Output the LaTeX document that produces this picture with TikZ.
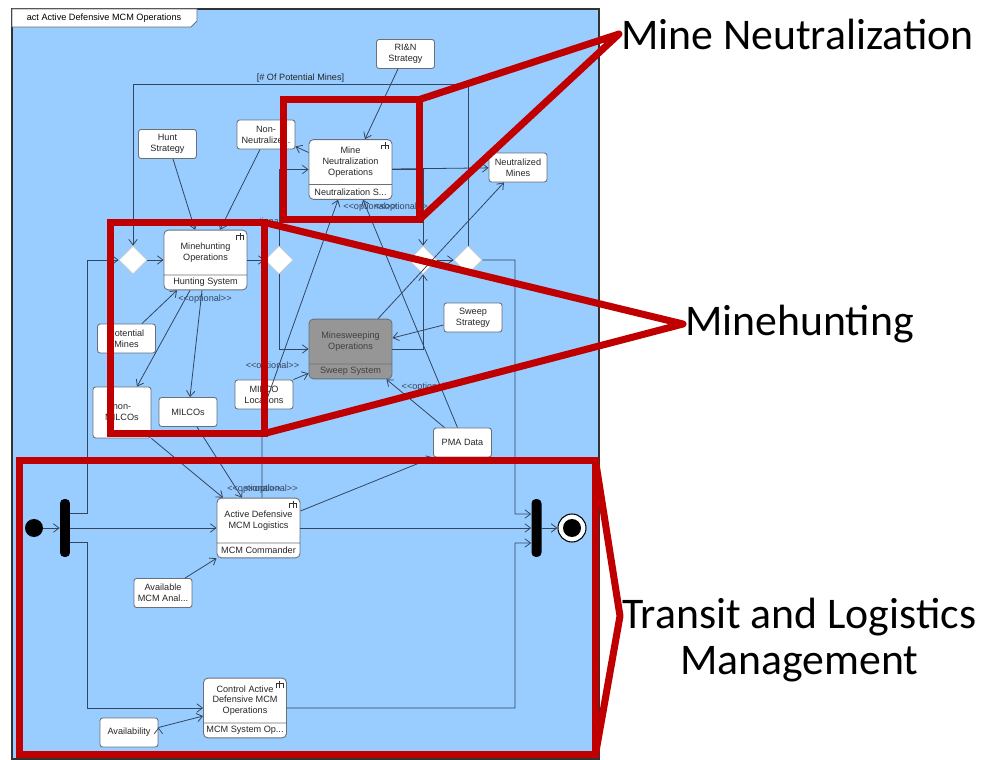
\documentclass[tikz,border=0pt]{standalone}
\usepackage{fontspec}
\setsansfont{Liberation Sans}[Ligatures=TeXOff]
\newfontfamily\calloutfont{Carlito}
\usetikzlibrary{shapes.geometric, shapes.multipart, arrows.meta, positioning}

\definecolor{frameblue}{RGB}{153,204,255}
\definecolor{edgecol}{RGB}{50,70,96}
\definecolor{boxline}{RGB}{105,112,122}
\definecolor{sweepgray}{RGB}{150,150,150}
\definecolor{callred}{RGB}{192,0,0}

% action box: name on top, partition below
\newcommand{\actparts}[2]{\parbox[c][0.88cm]{1.66cm}{\centering #1}\nodepart{two}\parbox[c][0.28cm]{1.66cm}{\centering #2}}

\begin{document}
\begin{tikzpicture}[x=0.02cm, y=-0.02cm, >={Straight Barb[length=3.2pt,width=4.8pt]},
    font=\sffamily\fontsize{5.2}{6.2}\selectfont,
    action/.style={rectangle split, rectangle split parts=2, draw=boxline, fill=white,
      rounded corners=2.5pt, inner sep=0pt, line width=0.5pt, text=black!85},
    obj/.style={draw=boxline, fill=white, rounded corners=1.5pt, line width=0.5pt,
      minimum width=1.16cm, minimum height=0.58cm, inner sep=1pt, align=center, text=black!85},
    decision/.style={diamond, draw=black!20, fill=white, minimum width=0.56cm,
      minimum height=0.56cm, inner sep=0pt},
    syncbar/.style={fill=black, rounded corners=2.5pt, minimum width=0.2cm,
      minimum height=1.16cm, inner sep=0pt},
    startdot/.style={circle, fill=black, minimum size=0.36cm, inner sep=0pt},
    enddot/.style={circle, draw=black, fill=white, line width=0.6pt, minimum size=0.56cm,
      inner sep=0pt, path picture={\fill[black] (path picture bounding box.center) circle (0.18cm);}},
    flow/.style={->, draw=edgecol, line width=0.45pt},
    optlbl/.style={text=edgecol, inner sep=0.5pt},
    rake/.style={draw=black!80, line width=0.5pt},
    callbox/.style={draw=callred, line width=4pt, inner sep=0pt, outer sep=0pt},
    callline/.style={draw=callred, line width=4pt, line join=round},
    calltext/.style={font=\calloutfont\fontsize{24.9}{26}\selectfont, inner sep=1pt}]

  \useasboundingbox (0,0) rectangle (981,760);
  \fill[frameblue] (12,9) rectangle (599,759);
  \draw[black!80, line width=0.8pt] (12,9) rectangle (599,759);
  \draw[fill=white, draw=boxline, line width=0.5pt] (12,9) -- (197,9) -- (197,21) -- (191,27) -- (12,27) -- cycle;
  \node (tab) at (104,18) {act Active Defensive MCM Operations};

  % objects, actions, control nodes
  \node[obj] (rin) at (405.5,54) {RI\&N\\Strategy};
  \node[obj] (hunt) at (167.5,144) {Hunt\\Strategy};
  \node[obj] (nn) at (266,134.5) {Non-\\Neutralize...};
  \node[action] (mno) at (350.5,169.5) {\actparts{Mine\\Neutralization\\Operations}{Neutralization S...}};
  \node[obj] (nm) at (518,167.5) {Neutralized\\Mines};
  \node[decision] (dec1) at (133,260) {};
  \node[action] (mho) at (205.5,260) {\actparts{Minehunting\\Operations}{Hunting System}};
  \node[decision] (dec2) at (279,260) {};
  \node[decision] (dec3) at (423,260) {};
  \node[decision] (dec4) at (468,260) {};
  \node[action, fill=sweepgray, text=black!75] (mso) at (350.5,349) {\actparts{Minesweeping\\Operations}{Sweep System}};
  \node[obj] (sweep) at (473,317.5) {Sweep\\Strategy};
  \node[obj] (pm) at (126.5,338.5) {Potential\\Mines};
  \node[obj, minimum height=1.02cm] (nonmilco) at (122,412.5) {non-\\MILCOs};
  \node[obj] (milco) at (188,412) {MILCOs};
  \node[obj] (milcoloc) at (264,394.5) {MILCO\\Locations};
  \node[obj] (pma) at (462.5,442.5) {PMA Data};
  \node[startdot] (ini) at (34,528) {};
  \node[syncbar] (fork) at (65,528) {};
  \node[action] (adml) at (258.5,528) {\actparts{Active Defensive\\MCM Logistics}{MCM Commander}};
  \node[syncbar] (join) at (536.5,528) {};
  \node[enddot] (fin) at (572,528) {};
  \node[obj] (ama) at (163,593) {Available\\MCM Anal...};
  \node[action] (cadmo) at (245,708) {\actparts{Control Active\\Defensive MCM\\Operations}{MCM System Op...}};
  \node[obj] (avail) at (129,732.5) {Availability};

  \foreach \a in {mho,mno,adml,cadmo}
    \draw[rake] ([shift={(-7,3)}]\a.north east) -- ++(0,7)
      ([shift={(-10.5,10)}]\a.north east) -- ++(0,-4) -- ++(7,0) -- ++(0,4);

  % control flow
  \draw[flow] ([yshift=0.29cm]fork.east) -| (87,260) -- (dec1);
  \draw[flow] ([yshift=-0.29cm]fork.east) -| (87,708) -- (cadmo);
  \draw[flow] (dec2) |- (mno);
  \draw[flow] (dec2) |- (mso);
  \draw[flow] (mno.east) -| (dec3);
  \draw[flow] (mso) -| (dec3);
  \draw[flow] (dec4) -- (dec4 |- 0,84) -| node[optlbl, pos=0.25, above, text=black!85] (guard) {[\# Of Potential Mines]} (dec1);
  \draw[flow] (dec4) -| (515,514) -- ([yshift=0.28cm]join.west);
  \draw[flow] (cadmo) -| (515,543) -- ([yshift=-0.3cm]join.west);
  \draw[flow] ([xshift=0.07cm]adml.north) -- (262,413) -- node[optlbl, at end, anchor=west, xshift=0.08cm, yshift=-0.14cm] {<<optional>>} ([xshift=-0.25cm]mno.south);

  \path[flow]
    (ini) edge (fork)
    (fork) edge (adml)
    (dec1) edge (mho)
    (mho) edge (dec2)
    (mno) edge (nm)
    (dec3) edge (dec4)
    (adml) edge (join)
    (join) edge (fin)
    ([xshift=-0.15cm]rin.south) edge ([xshift=0.29cm]mno.north)
    ([xshift=0.11cm]hunt.south) edge ([xshift=-0.21cm]mho.north)
    ([xshift=-0.12cm]nn.south) edge node[optlbl, at end, anchor=west, xshift=0.34cm, yshift=0.16cm] {<<optional>>} ([xshift=0.29cm]mho.north)
    ([yshift=0.34cm]mno.west) edge ([yshift=-0.24cm]nn.east)
    ([xshift=0.31cm]pm.north) edge ([xshift=-0.57cm]mho.south)
    ([xshift=-0.31cm]mho.south) edge ([xshift=0.3cm]nonmilco.north)
    ([xshift=-0.07cm]mho.south) edge node[optlbl, at start, anchor=north, xshift=0.06cm, yshift=-0.06cm] {<<optional>>} ([xshift=0.04cm]milco.north)
    (nonmilco.south east) edge node[optlbl, at end, anchor=south west, xshift=0.06cm, yshift=0.06cm] {<<optional>>} ([xshift=-0.71cm]adml.north)
    ([xshift=0.18cm]milco.south) edge node[optlbl, at end, anchor=south west, xshift=0.02cm, yshift=0.06cm] {<<optional>>} ([xshift=-0.33cm]adml.north)
    (milcoloc.north east) edge node[optlbl, at start, anchor=south east, xshift=0.14cm, yshift=0.16cm] {<<optional>>} ([yshift=0.12cm]mso.south west)
    ([yshift=-0.15cm]sweep.west) edge ([yshift=0.22cm]mso.east)
    ([xshift=-0.36cm]pma.north) edge node[optlbl, at end, anchor=west, xshift=0.28cm, yshift=-0.16cm] {<<optional>>} ([xshift=-0.12cm]mso.south east)
    ([xshift=-0.1cm]pma.north) edge node[optlbl, at end, anchor=west, xshift=0.2cm, yshift=-0.14cm] {<<optional>>} ([xshift=0.25cm]mno.south)
    ([xshift=0.55cm]mso.north) edge ([xshift=-0.28cm]nm.south)
    ([yshift=0.34cm]adml.east) edge (pma.south west)
    ([xshift=0.44cm]ama.north) edge (adml.south west)
    ([yshift=0.1cm]avail.east) edge ([yshift=-0.16cm]cadmo.west);

  % red call-outs
  \node[callbox, minimum width=2.72cm, minimum height=2.4cm] (boxneut) at (351.5,159.5) {};
  \node[callbox, minimum width=3.08cm, minimum height=4.22cm] (boxhunt) at (187.5,328) {};
  \node[callbox, minimum width=11.52cm, minimum height=5.88cm] (boxtrans) at (307.5,607.5) {};
  \node[calltext, anchor=west] (lblneut) at (619,34) {Mine Neutralization};
  \node[calltext, anchor=west] (lblhunt) at (683,324) {Minehunting};
  \node[calltext, anchor=north west, align=center] (lbltrans) at (620,596) {Transit and Logistics\\Management};
  \coordinate (tiptrans) at (620,616);
  \draw[callline] (boxneut.north east) -- (lblneut.west) -- (boxneut.south east);
  \draw[callline] (boxhunt.north east) -- (lblhunt.west) -- (boxhunt.south east);
  \draw[callline] (boxtrans.north east) -- (tiptrans) -- (boxtrans.south east);
\end{tikzpicture}
\end{document}
